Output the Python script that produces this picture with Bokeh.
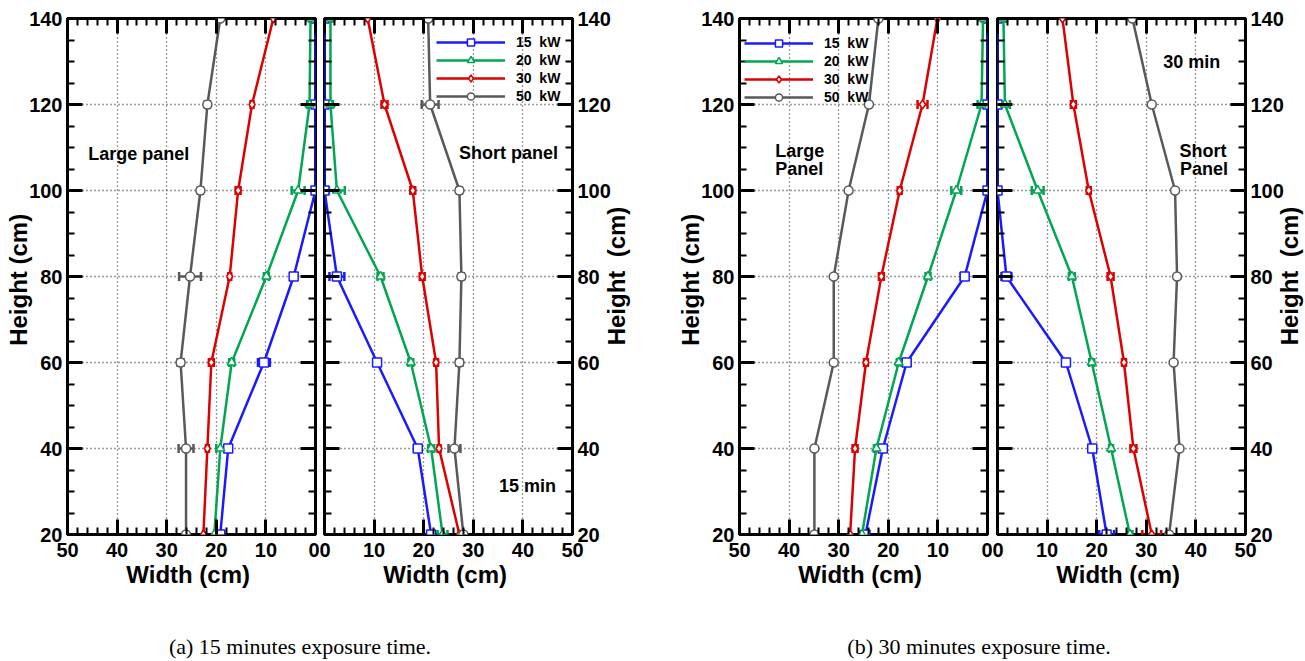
import math
from bokeh.plotting import figure
from bokeh.models import (Range1d, FixedTicker, LinearAxis, Label, Whisker, TeeHead,
                          ColumnDataSource, Div, Spacer, CustomJSTickFormatter)
from bokeh.layouts import row, column
from bokeh.embed import file_html
from bokeh.resources import INLINE

# ---------------- data ----------------
heights = [20, 40, 60, 80, 100, 120, 140]
series_labels = ["15  kW", "20  kW", "30  kW", "50  kW"]
series_colors = ["#1a1aff", "#00a651", "#dd0000", "#595959"]
series_markers = ["square", "triangle", "diamond", "circle"]

x_ticks = [0, 10, 20, 30, 40, 50]
y_ticks = [20, 40, 60, 80, 100, 120, 140]

# (a) 15 minutes - large panel widths (cm)
a_large_15 = [19.2, 17.6, 10.4, 4.4, 0.0, 0.0, 0.0]
a_large_20 = [20.4, 19.2, 16.9, 9.9, 3.5, 1.2, 1.0]
a_large_30 = [22.6, 21.8, 21.0, 17.3, 15.6, 12.8, 8.5]
a_large_50 = [26.1, 26.1, 27.2, 25.3, 23.2, 21.8, 19.2]
a_large_15_err = [0.0, 0.6, 1.2, 0.5, 0.0, 0.0, 0.0]
a_large_20_err = [0.0, 0.8, 0.5, 0.5, 1.3, 0.5, 0.3]
a_large_30_err = [0.0, 0.3, 0.5, 0.3, 0.5, 0.3, 0.0]
a_large_50_err = [0.0, 1.5, 0.6, 2.2, 0.5, 0.5, 0.0]

# (a) 15 minutes - short panel widths (cm)
a_short_15 = [21.5, 18.8, 10.6, 2.5, 0.0, 0.0, 0.0]
a_short_20 = [23.8, 21.5, 17.4, 11.3, 2.5, 1.2, 1.2]
a_short_30 = [27.2, 23.1, 22.5, 19.7, 17.8, 12.1, 8.7]
a_short_50 = [28.0, 26.2, 27.2, 27.6, 27.2, 21.3, 20.9]
a_short_15_err = [0.5, 0.5, 0.5, 1.5, 0.0, 0.0, 0.0]
a_short_20_err = [1.0, 0.6, 0.5, 0.6, 1.6, 0.5, 0.4]
a_short_30_err = [0.0, 0.3, 0.4, 0.5, 0.5, 0.6, 0.0]
a_short_50_err = [0.0, 1.2, 0.6, 0.5, 0.5, 1.7, 0.0]

# (b) 30 minutes - large panel widths (cm)
b_large_15 = [24.6, 21.1, 16.3, 4.6, 0.0, 0.0, 0.0]
b_large_20 = [25.3, 22.4, 17.9, 12.0, 6.3, 1.2, 0.9]
b_large_30 = [27.7, 26.7, 24.5, 21.4, 17.7, 13.1, 10.1]
b_large_50 = [34.9, 34.9, 31.0, 31.0, 28.0, 23.9, 22.0]
b_large_15_err = [0.3, 0.6, 0.8, 0.8, 0.0, 0.0, 0.0]
b_large_20_err = [0.5, 0.5, 0.4, 0.5, 1.0, 0.8, 0.3]
b_large_30_err = [0.0, 0.5, 0.4, 0.5, 0.4, 1.0, 0.0]
b_large_50_err = [0.0, 0.0, 0.0, 0.0, 0.0, 0.0, 0.0]

# (b) 30 minutes - short panel widths (cm)
b_short_15 = [22.0, 19.1, 13.8, 1.8, 0.0, 0.0, 0.0]
b_short_20 = [26.7, 22.9, 19.0, 15.0, 8.1, 1.5, 1.2]
b_short_30 = [31.1, 27.4, 25.5, 22.8, 18.4, 15.3, 13.1]
b_short_50 = [34.6, 36.7, 35.5, 36.2, 35.8, 31.1, 27.2]
b_short_15_err = [1.5, 0.6, 0.5, 1.0, 0.0, 0.0, 0.0]
b_short_20_err = [0.5, 0.4, 0.5, 0.6, 1.2, 1.0, 0.5]
b_short_30_err = [1.9, 0.6, 0.4, 0.6, 0.4, 0.5, 0.0]
b_short_50_err = [0.0, 0.0, 0.0, 0.0, 0.0, 0.0, 0.0]

captions = ["(a) 15 minutes exposure time.", "(b) 30 minutes exposure time."]
y_title = "Height  (cm)"
x_title = "Width  (cm)"

# ---------------- styling helpers ----------------
FONT = "Liberation Sans"
FRAME_W, FRAME_H = 248, 516
TOP, BOTTOM = 18, 90
FIG_H = TOP + FRAME_H + BOTTOM


def style_axis(ax, ticker, labeled):
    ax.ticker = ticker
    ax.axis_line_color = None
    ax.major_tick_in = 15
    ax.major_tick_out = 0
    ax.minor_tick_in = 7
    ax.minor_tick_out = 0
    ax.major_tick_line_width = 3
    ax.minor_tick_line_width = 2
    ax.major_tick_line_color = "black"
    ax.minor_tick_line_color = "black"
    if labeled:
        ax.major_label_text_font = FONT
        ax.major_label_text_font_style = "bold"
        ax.major_label_text_font_size = "20px"
        ax.major_label_text_color = "black"
        ax.axis_label_text_font = FONT
        ax.axis_label_text_font_style = "bold"
        ax.axis_label_text_font_size = "24px"
        ax.axis_label_text_color = "black"
    else:
        ax.formatter = CustomJSTickFormatter(code="return ''")
        ax.major_label_standoff = 0


def make_panel(kind, vals, errs, bl, br, legend_xy=None, ylabel_side=None):
    xr = Range1d(50, 0) if kind == "large" else Range1d(0, 50)
    p = figure(frame_width=FRAME_W, frame_height=FRAME_H, x_range=xr,
               y_range=Range1d(20, 140), output_backend="svg",
               toolbar_location=None, x_axis_location="below",
               y_axis_location="left",
               min_border_left=bl, min_border_right=br,
               min_border_top=TOP, min_border_bottom=BOTTOM)
    p.outline_line_color = "black"
    p.outline_line_width = 3
    p.outline_line_alpha = 1.0
    p.background_fill_color = "white"
    p.border_fill_color = "white"

    xt = FixedTicker(ticks=x_ticks, minor_ticks=list(range(0, 51, 2)))
    yt = FixedTicker(ticks=y_ticks, minor_ticks=list(range(20, 141, 5)))

    xb = p.xaxis[0]
    style_axis(xb, xt, True)
    xb.axis_label = x_title
    xb.major_label_standoff = 8
    xb.axis_label_standoff = 1
    xa = LinearAxis()
    style_axis(xa, xt, False)
    p.add_layout(xa, "above")

    yl = p.yaxis[0]
    yr = LinearAxis()
    p.add_layout(yr, "right")
    if ylabel_side == "left":
        style_axis(yl, yt, True)
        yl.axis_label = y_title
        yl.major_label_standoff = 5
        yl.axis_label_standoff = -6
        style_axis(yr, yt, False)
    else:
        style_axis(yl, yt, False)
        style_axis(yr, yt, True)
        yr.major_label_standoff = 5

    p.xgrid.ticker = xt
    p.ygrid.ticker = yt
    p.grid.grid_line_color = "#333333"
    p.grid.grid_line_dash = "1 3"
    p.grid.grid_line_width = 1.3

    for lab, col, mk, v, e in zip(series_labels, series_colors, series_markers, vals, errs):
        pts = [(h, w, d) for h, w, d in zip(heights, v, e) if d > 0]
        if pts:
            src = ColumnDataSource(dict(h=[q[0] for q in pts],
                                        lo=[q[1] - q[2] for q in pts],
                                        hi=[q[1] + q[2] for q in pts]))
            p.add_layout(Whisker(source=src, base="h", lower="lo", upper="hi",
                                 dimension="width", line_color=col, line_width=2.5,
                                 lower_head=TeeHead(size=9, line_color=col, line_width=2.5),
                                 upper_head=TeeHead(size=9, line_color=col, line_width=2.5)))
        kw = dict(legend_label=lab) if legend_xy else {}
        p.line(v, heights, line_color=col, line_width=2.5, **kw)
        p.scatter(v, heights, marker=mk, size=9, line_color=col, line_width=1.5,
                  fill_color="white", **kw)

    if legend_xy:
        lg = p.legend[0]
        lg.location = legend_xy
        lg.border_line_color = None
        lg.background_fill_alpha = 0
        lg.padding = 0
        lg.margin = 0
        lg.spacing = 0
        lg.glyph_width = 69
        lg.glyph_height = 18
        lg.label_height = 18
        lg.label_standoff = 11
        lg.label_text_font = FONT
        lg.label_text_font_style = "bold"
        lg.label_text_font_size = "14px"
        lg.label_text_color = "black"
    return p


def add_text(p, x, y, text, align):
    p.add_layout(Label(x=x, y=y, text=text, text_align=align, text_baseline="alphabetic",
                       text_font=FONT, text_font_style="bold", text_font_size="18px",
                       text_color="black"))


def right_title(width):
    style = ("position:absolute;left:-8px;top:%dpx;width:24px;line-height:24px;"
             "writing-mode:vertical-rl;transform:translateY(-50%%) rotate(180deg);"
             "font-family:'Liberation Sans';font-weight:bold;font-size:24px;"
             "white-space:pre;color:black;") % (TOP + FRAME_H // 2)
    return Div(text=f'<div style="{style}">{y_title}</div>', width=width, height=FIG_H,
               margin=0, styles={"overflow": "visible"})


p1 = make_panel("large", [a_large_15, a_large_20, a_large_30, a_large_50],
                [a_large_15_err, a_large_20_err, a_large_30_err, a_large_50_err],
                67, 4, ylabel_side="left")
p2 = make_panel("short", [a_short_15, a_short_20, a_short_30, a_short_50],
                [a_short_15_err, a_short_20_err, a_short_30_err, a_short_50_err],
                5, 40, legend_xy=(112, 429), ylabel_side="right")
p3 = make_panel("large", [b_large_15, b_large_20, b_large_30, b_large_50],
                [b_large_15_err, b_large_20_err, b_large_30_err, b_large_50_err],
                67, 5, legend_xy=(5, 428), ylabel_side="left")
p4 = make_panel("short", [b_short_15, b_short_20, b_short_30, b_short_50],
                [b_short_15_err, b_short_20_err, b_short_30_err, b_short_50_err],
                5, 40, ylabel_side="right")

add_text(p1, 45.8, 108.6, "Large  panel", "left")
add_text(p2, 48.1, 108.8, "Short  panel", "right")
add_text(p2, 47.7, 31.2, "15  min", "right")
add_text(p3, 42.8, 109.3, "Large", "left")
add_text(p3, 42.8, 105.1, "Panel", "left")
add_text(p4, 36.7, 109.3, "Short", "left")
add_text(p4, 36.8, 105.1, "Panel", "left")
add_text(p4, 45.9, 129.8, "30  min", "right")

t2 = right_title(59)
t4 = right_title(21)

cap_style = ("text-align:center;font-family:'Liberation Serif';font-size:22px;"
             "line-height:22px;padding-top:12px;color:black;")
cap_a = Div(text=f'<div style="{cap_style}width:600px">{captions[0]}</div>',
            width=622, height=37, margin=0)
cap_b = Div(text=f'<div style="{cap_style}width:600px">{captions[1]}</div>',
            width=600, height=37, margin=0)

layout = column(row(p1, p2, t2, p3, p4, t4, spacing=0),
                row(cap_a, Spacer(width=57, height=37, margin=0), cap_b, spacing=0),
                spacing=0)

open("out.html", "w").write(file_html(layout, INLINE))
